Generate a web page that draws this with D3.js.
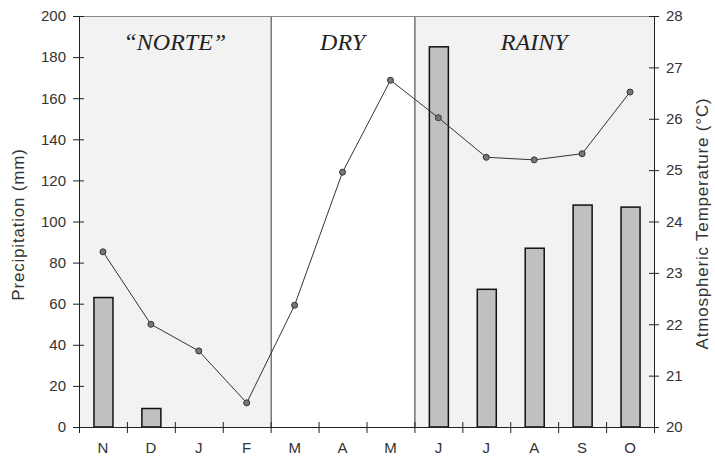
<!DOCTYPE html>
<html>
<head>
<meta charset="utf-8">
<script src="https://cdn.jsdelivr.net/npm/d3@7"></script>
<style>
body { margin: 0; background: #fff; }
text { font-family: "Liberation Sans", Arial, sans-serif; }
</style>
</head>
<body>
<div id="chart"></div>
<script>
var months = ["N", "D", "J", "F", "M", "A", "M", "J", "J", "A", "S", "O"];
var precipitation = [63, 9, 0, 0, 0, 0, 0, 185, 67, 87, 108, 107];
var temperature = [23.41, 22.0, 21.48, 20.47, 22.37, 24.96, 26.75, 26.02, 25.25, 25.2, 25.32, 26.52];
var seasons = [
    { name: "\u201CNORTE\u201D", from: 0, to: 4, fill: "#f2f2f2" },
    { name: "DRY", from: 4, to: 7, fill: "#ffffff" },
    { name: "RAINY", from: 7, to: 12, fill: "#f2f2f2" }
];
var precipTicks = [0, 20, 40, 60, 80, 100, 120, 140, 160, 180, 200];
var tempTicks = [20, 21, 22, 23, 24, 25, 26, 27, 28];

var margin = { top: 16, right: 61, bottom: 31, left: 79 };
var width = 715 - margin.left - margin.right,
    height = 458 - margin.top - margin.bottom;

var svg = d3.select("#chart").append("svg")
    .attr("width", 715)
    .attr("height", 458);

var g = svg.append("g")
    .attr("transform", "translate(" + margin.left + "," + margin.top + ")");

var x = d3.scaleBand()
    .domain(d3.range(months.length))
    .range([0, width]);

var yP = d3.scaleLinear().domain([0, 200]).range([height, 0]);
var yT = d3.scaleLinear().domain([20, 28]).range([height, 0]);

// season backgrounds
g.selectAll(".season")
    .data(seasons).enter()
    .append("rect")
    .attr("x", d => x(d.from))
    .attr("y", 0)
    .attr("width", d => x.step() * (d.to - d.from))
    .attr("height", height)
    .attr("fill", d => d.fill);

// dividers
g.selectAll(".divider")
    .data(seasons.slice(1)).enter()
    .append("line")
    .attr("x1", d => x(d.from) + 0.5)
    .attr("x2", d => x(d.from) + 0.5)
    .attr("y1", 0)
    .attr("y2", height)
    .attr("stroke", "#333")
    .attr("stroke-width", 1);

// top border
g.append("line")
    .attr("x1", 0).attr("x2", width)
    .attr("y1", 0.5).attr("y2", 0.5)
    .attr("stroke", "#888");

g.selectAll(".slabel")
    .data(seasons).enter()
    .append("text")
    .attr("x", d => (x(d.from) + x(d.to - 1) + x.bandwidth()) / 2)
    .attr("y", 34)
    .attr("text-anchor", "middle")
    .style("font-family", "'Liberation Serif', 'DejaVu Serif', serif")
    .style("font-style", "italic")
    .style("font-size", "24px")
    .attr("fill", "#222")
    .text(d => d.name);

// bars
var barW = 19;
g.selectAll(".bars")
    .data(precipitation.map((v, i) => ({ v: v, i: i })).filter(d => d.v > 0)).enter()
    .append("rect")
    .attr("class", "bars")
    .attr("x", d => x(d.i) + x.bandwidth() / 2 - barW / 2 + 0.5)
    .attr("y", d => yP(d.v))
    .attr("width", barW)
    .attr("height", d => height - yP(d.v))
    .attr("fill", "#c0c0c0")
    .attr("stroke", "#111")
    .attr("stroke-width", 1.5);

// temperature line
var line = d3.line()
    .x((d, i) => x(i) + x.bandwidth() / 2)
    .y(d => yT(d));

g.append("path")
    .datum(temperature)
    .attr("d", line)
    .attr("fill", "none")
    .attr("stroke", "#333")
    .attr("stroke-width", 1);

g.selectAll(".pt")
    .data(temperature).enter()
    .append("circle")
    .attr("cx", (d, i) => x(i) + x.bandwidth() / 2)
    .attr("cy", d => yT(d))
    .attr("r", 3)
    .attr("fill", "#777")
    .attr("stroke", "#333")
    .attr("stroke-width", 1);

// axes
var leftAxis = d3.axisLeft(yP).tickValues(precipTicks).tickSize(6).tickPadding(7);
var gl = g.append("g").call(leftAxis);
gl.selectAll(".tick line").attr("x1", 5).attr("x2", -6);

var rightAxis = d3.axisRight(yT).tickValues(tempTicks).tickSize(5).tickPadding(7);
var gr = g.append("g").attr("transform", "translate(" + width + ",0)").call(rightAxis);
gr.selectAll(".tick line").attr("x1", -5).attr("x2", 5);

var bottomAxis = d3.axisBottom(d3.scaleLinear().domain([0, 12]).range([0, width]))
    .tickValues(d3.range(0, 13)).tickSize(6).tickFormat("");
var gb = g.append("g").attr("transform", "translate(0," + height + ")").call(bottomAxis);
gb.selectAll(".tick line").attr("y1", -5).attr("y2", 6);

[gl, gr, gb].forEach(function(a) {
    a.select(".domain").attr("stroke", "#222");
    a.selectAll(".tick line").attr("stroke", "#222");
    a.selectAll(".tick text")
        .style("font-size", "15px")
        .attr("fill", "#333");
});
gl.select(".domain").attr("d", "M0.5,0V" + height);
gr.select(".domain").attr("d", "M0.5,0V" + height);
gb.select(".domain").attr("d", "M0," + 0.5 + "H" + width);

g.selectAll(".mlabel")
    .data(months).enter()
    .append("text")
    .attr("x", (d, i) => x(i) + x.bandwidth() / 2)
    .attr("y", height + 26)
    .attr("text-anchor", "middle")
    .style("font-size", "15px")
    .attr("fill", "#333")
    .text(d => d);

// axis titles
svg.append("text")
    .attr("transform", "translate(24," + (margin.top + height / 2 + 3) + ") rotate(-90)")
    .attr("text-anchor", "middle")
    .style("font-size", "17px")
    .style("letter-spacing", "0.8px")
    .attr("fill", "#333")
    .text("Precipitation (mm)");

svg.append("text")
    .attr("transform", "translate(708," + (margin.top + height / 2 + 2) + ") rotate(-90)")
    .attr("text-anchor", "middle")
    .style("font-size", "17px")
    .style("letter-spacing", "0.8px")
    .attr("fill", "#333")
    .text("Atmospheric Temperature (\u00B0C)");
</script>
</body>
</html>
